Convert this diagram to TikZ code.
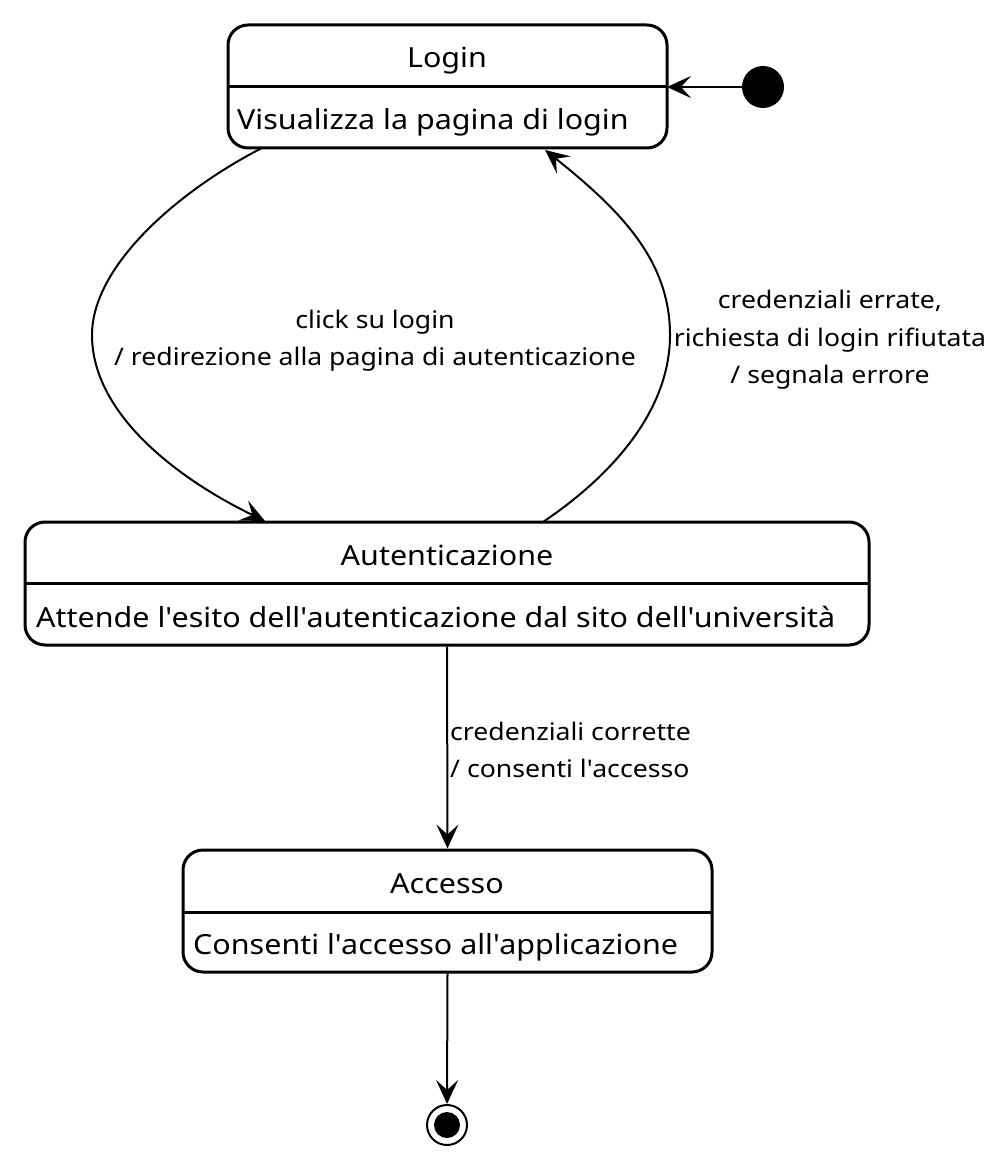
\documentclass[tikz,border=0pt]{standalone}
\usepackage{fontspec}
\setmainfont{Noto Sans}[FakeStretch=1.1]
\usetikzlibrary{arrows.meta}
\newcommand{\ap}{\textquotesingle}
\begin{document}
\begin{tikzpicture}[x=1pt,y=-1pt,
  statebox/.style={draw, line width=3pt, rounded corners=20pt, inner sep=0pt},
  stname/.style={font=\fontsize{27.7}{34}\selectfont, inner sep=0pt, anchor=center},
  stbody/.style={font=\fontsize{27.7}{34}\selectfont, inner sep=0pt, anchor=west},
  lbl/.style={font=\fontsize{24.2}{37.5}\selectfont, inner sep=0pt, align=center},
  conn/.style={line width=2pt, -{Stealth[length=24pt, width=22pt, inset=10pt]}},
  divider/.style={line width=3pt}
]
\useasboundingbox (0,0) rectangle (1000,1155);

% Login
\node[statebox, minimum width=439pt, minimum height=123pt] (login) at (447.5,86.5) {};
\node[stname] (logint) at (447,61) {Login};
\node[stbody] (loginb) at (237,122) {Visualizza la pagina di login};
\draw[divider] (228,87) coordinate (ld1) -- (667,87) coordinate (ld2);

% Autenticazione
\node[statebox, minimum width=844pt, minimum height=123pt] (auth) at (447,583.5) {};
\node[stname] (autht) at (447,555.5) {Autenticazione};
\node[stbody] (authb) at (36,617.5) {Attende l\ap esito dell\ap autenticazione dal sito dell\ap università};
\draw[divider] (25,583) -- (869,583);

% Accesso
\node[statebox, minimum width=529pt, minimum height=122pt] (acc) at (447.5,911) {};
\node[stname] (acct) at (447,884) {Accesso};
\node[stbody] (accb) at (193,947) {Consenti l\ap accesso all\ap applicazione};
\draw[divider] (183,912) -- (712,912);

% initial and final
\node[circle, fill=black, minimum size=42pt, inner sep=0pt] (init) at (763,87) {};
\node[circle, draw, line width=2pt, minimum size=40pt, inner sep=0pt] (fin) at (447,1125) {};
\node[circle, fill=black, minimum size=26pt, inner sep=0pt] (finin) at (447,1125) {};

% connectors
\coordinate (a1) at (262,148);
\coordinate (a2) at (265,521);
\draw[conn] (a1) .. controls (180,190) and (92,265) .. (92,335) .. controls (92,415) and (180,480) .. (a2);

\coordinate (b1) at (543,522);
\coordinate (b2) at (545,150);
\draw[conn] (b1) .. controls (620,470) and (670,405) .. (670,335) .. controls (670,260) and (620,210) .. (b2);

\draw[conn] (init) -- (ld2);
\draw[conn] (auth.south) -- (acc.north);
\draw[conn] (acc.south) -- (fin.north);

% labels
\node[lbl] (l1) at (375,340.5) {click su login\\/ redirezione alla pagina di autenticazione};
\node[lbl] (l2) at (830,340) {credenziali errate,\\richiesta di login rifiutata\\/ segnala errore};
\node[lbl, align=left, anchor=west] (l3) at (450,750) {credenziali corrette\\/ consenti l\ap accesso};
\end{tikzpicture}
\end{document}
